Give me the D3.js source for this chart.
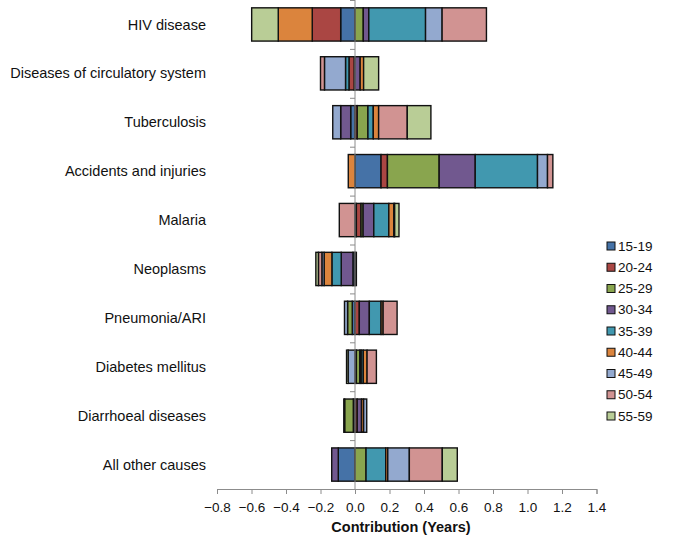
<!DOCTYPE html>
<html lang="en">
<head>
<meta charset="UTF-8">
<title>Contribution by cause</title>
<script src="https://d3js.org/d3.v7.min.js"></script>
<style>
  body { margin: 0; background: #fff; }
  svg { font-family: "Liberation Sans", Arial, sans-serif; }
</style>
</head>
<body>
<script>
// Categories (top to bottom)
const causes = ["HIV disease", "Diseases of circulatory system", "Tuberculosis",
  "Accidents and injuries", "Malaria", "Neoplasms", "Pneumonia/ARI",
  "Diabetes mellitus", "Diarrhoeal diseases", "All other causes"];

// Age groups (series)
const ageGroups = ["15-19", "20-24", "25-29", "30-34", "35-39", "40-44", "45-49", "50-54", "55-59"];
const colors = ["#4572A7", "#AA4643", "#89A54E", "#71588F", "#4198AF", "#DB843D", "#93A9CF", "#D19392", "#B9CD96"];

// values per age group, in cause order
const v1519 = [-0.083, -0.005, -0.025, 0.151, 0.008, -0.012, -0.016, 0.008, -0.010, -0.097];
const v2024 = [-0.165, -0.030, 0.013, 0.037, 0.027, 0.000, 0.025, 0.000, 0.013, 0.000];
const v2529 = [0.048, 0.000, 0.062, 0.300, 0.012, 0.008, -0.027, 0.020, -0.050, 0.064];
const v3034 = [0.032, 0.030, -0.058, 0.209, 0.062, -0.068, 0.058, 0.008, 0.025, -0.038];
const v3539 = [0.329, -0.020, 0.031, 0.361, 0.087, -0.054, 0.068, 0.012, 0.000, 0.114];
const v4044 = [-0.197, 0.020, 0.031, -0.039, 0.029, -0.045, 0.012, 0.022, 0.012, 0.012];
const v4549 = [0.096, -0.122, -0.046, 0.058, 0.005, -0.013, -0.018, -0.040, 0.018, 0.125];
const v5054 = [0.257, -0.023, 0.166, 0.031, -0.091, -0.020, 0.081, 0.054, 0.000, 0.191];
const v5559 = [-0.154, 0.087, 0.137, 0.000, 0.025, -0.015, 0.000, -0.009, -0.005, 0.087];
const series = [v1519, v2024, v2529, v3034, v3539, v4044, v4549, v5054, v5559];

const xTicks = [-0.8, -0.6, -0.4, -0.2, 0, 0.2, 0.4, 0.6, 0.8, 1.0, 1.2, 1.4];

const w = 683, h = 539;
const plot = { left: 217, right: 596.5, top: 0, bottom: 489 };

const svg = d3.select("body").append("svg")
  .attr("width", w).attr("height", h);

const x = d3.scaleLinear().domain([-0.8, 1.4]).range([plot.left, plot.right]);
const y = d3.scaleBand().domain(causes).range([plot.top, plot.bottom]).paddingInner(0.32).paddingOuter(0.16);

// stack positives and negatives separately, in series order
const segs = [];
causes.forEach((c, ci) => {
  let pos = 0, neg = 0;
  series.forEach((s, si) => {
    const v = s[ci];
    if (v === 0) return;
    if (v > 0) { segs.push({ c, si, x0: pos, x1: pos + v }); pos += v; }
    else { segs.push({ c, si, x0: neg + v, x1: neg }); neg += v; }
  });
});

svg.append("g").selectAll("rect")
  .data(segs)
  .join("rect")
  .attr("x", d => x(d.x0))
  .attr("width", d => x(d.x1) - x(d.x0))
  .attr("y", d => y(d.c))
  .attr("height", y.bandwidth())
  .attr("fill", d => colors[d.si])
  .attr("stroke", "#111")
  .attr("stroke-width", 1.4);

// y axis at zero
const yAxisG = svg.append("g").attr("transform", `translate(${x(0)},0)`);
yAxisG.append("line").attr("y1", plot.top).attr("y2", plot.bottom).attr("stroke", "#8c8c8c");
const bounds = causes.map((c, i) => plot.top + i * y.step());
yAxisG.selectAll("line.tk").data(bounds).join("line").attr("class", "tk")
  .attr("x1", -5).attr("x2", 0).attr("y1", d => d + 0.5).attr("y2", d => d + 0.5)
  .attr("stroke", "#8c8c8c");

// category labels
svg.append("g").selectAll("text")
  .data(causes)
  .join("text")
  .attr("x", 206)
  .attr("y", d => y(d) + y.bandwidth() / 2)
  .attr("dy", "0.35em")
  .attr("text-anchor", "end")
  .attr("font-size", 14.5)
  .attr("fill", "#111")
  .text(d => d);

// x axis
const xAxis = d3.axisBottom(x).tickValues(xTicks).tickSize(5).tickPadding(8)
  .tickFormat(d3.format(".1f"));
const xg = svg.append("g").attr("transform", `translate(0,${plot.bottom})`).call(xAxis);
xg.select(".domain").attr("stroke", "#8c8c8c");
xg.selectAll(".tick line").attr("stroke", "#8c8c8c");
xg.selectAll(".tick text").attr("font-size", 13.5).attr("fill", "#111")
  .attr("font-family", "'Liberation Sans', Arial, sans-serif");

svg.append("text")
  .attr("x", 401)
  .attr("y", 532)
  .attr("text-anchor", "middle")
  .attr("font-size", 14.5)
  .attr("font-weight", "bold")
  .attr("fill", "#111")
  .text("Contribution (Years)");

// legend
const legend = svg.append("g").attr("transform", "translate(607,246)");
const li = legend.selectAll("g").data(ageGroups).join("g")
  .attr("transform", (d, i) => `translate(0,${i * 21.25})`);
li.append("rect").attr("x", 0).attr("y", -4).attr("width", 8).attr("height", 8)
  .attr("fill", (d, i) => colors[i]).attr("stroke", "#111").attr("stroke-width", 1);
li.append("text").attr("x", 11).attr("dy", "0.35em").attr("font-size", 13.5).attr("fill", "#111")
  .text(d => d);
</script>
</body>
</html>
